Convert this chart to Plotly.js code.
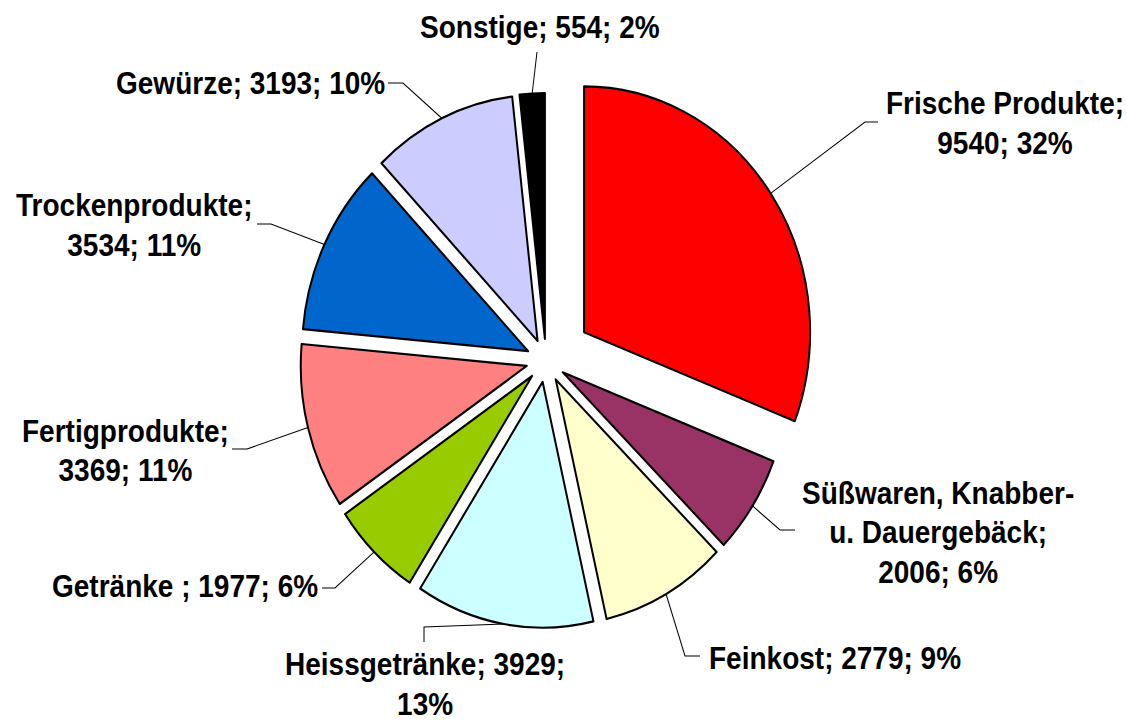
<!DOCTYPE html>
<html>
<head>
<meta charset="utf-8">
<script src="https://cdn.plot.ly/plotly-3.0.1.min.js"></script>
<style>
html, body { margin: 0; padding: 0; background: #ffffff; overflow: hidden; }
#wrap { width: 1127px; height: 720px; transform: scaleY(1.08761); transform-origin: 0 0; }
</style>
</head>
<body>
<div id="wrap"><div id="chart"></div></div>
<script>
// ---- data ----
const categories = ['Frische Produkte', 'Süßwaren, Knabber- u. Dauergebäck', 'Feinkost', 'Heissgetränke',
  'Getränke ', 'Fertigprodukte', 'Trockenprodukte', 'Gewürze', 'Sonstige'];
const categoryDisplay = ['Frische Produkte', 'Süßwaren, Knabber-<br>u. Dauergebäck', 'Feinkost', 'Heissgetränke',
  'Getränke ', 'Fertigprodukte', 'Trockenprodukte', 'Gewürze', 'Sonstige'];
const values = [9540, 2006, 2779, 3929, 1977, 3369, 3534, 3193, 554];
const percentLabels = ['32%', '6%', '9%', '13%', '6%', '11%', '11%', '10%', '2%'];

// ---- style ----
const colors = ['#FF0000', '#993366', '#FFFFCC', '#CCFFFF', '#99CC00', '#FF8080', '#0066CC', '#CCCCFF', '#000000'];
const pulls = [0.204, 0.088, 0.088, 0.088, 0.088, 0.088, 0.088, 0.088, 0.088];
// where the line break goes in each label: after category, after value, or none
const breakMode = ['cat', 'cat', 'none', 'val', 'none', 'cat', 'cat', 'none', 'none'];

const W = 1127, H = 720, S = 720 / 662;
// label placement (reference pixels): text centre, leader elbow, leader end
const labelLayout = [
  { x: 1005, y: 123, elbow: [865, 122], end: [878, 122] },
  { x: 938, y: 533, elbow: [780, 530], end: [795, 530] },
  { x: 835, y: 659, elbow: [685, 656], end: [700, 656] },
  { x: 425, y: 685, elbow: [424, 627], end: [424, 642] },
  { x: 185, y: 587, elbow: [335, 588], end: [322, 588] },
  { x: 125, y: 451, elbow: [247, 449], end: [232, 449] },
  { x: 134, y: 226, elbow: [271, 224], end: [257, 224] },
  { x: 250, y: 83, elbow: [403, 83], end: [388, 83] },
  { x: 540, y: 28, elbow: [537, 52], end: [537, 52] }
];

const px2paperX = x => x / W;
const ref2paperY = y => 1 - (y / S) / H;

function labelText(i) {
  const c = categoryDisplay[i], v = values[i], p = percentLabels[i];
  if (breakMode[i] === 'cat') return c + ';<br>' + v + '; ' + p;
  if (breakMode[i] === 'val') return c + '; ' + v + ';<br>' + p;
  return c + '; ' + v + '; ' + p;
}

const font = { family: 'Liberation Sans, Arial, sans-serif', size: 28, color: '#000000', weight: 'bold' };

const annotations = categories.map((c, i) => ({
  xref: 'paper', yref: 'paper',
  x: px2paperX(labelLayout[i].x), y: ref2paperY(labelLayout[i].y),
  xanchor: 'center', yanchor: 'middle', align: 'center',
  text: labelText(i), showarrow: false, font: font
}));

const trace = {
  type: 'pie',
  labels: categories,
  values: values,
  sort: false,
  direction: 'clockwise',
  rotation: 0,
  pull: pulls,
  textinfo: 'none',
  hoverinfo: 'skip',
  showlegend: false,
  marker: { colors: colors, line: { color: '#000000', width: 2 } },
  domain: { x: [0.2430, 0.7260], y: [0.1616, 0.9176] }
};

const layout = {
  width: W, height: H,
  margin: { l: 0, r: 0, t: 0, b: 0 },
  paper_bgcolor: '#ffffff',
  plot_bgcolor: '#ffffff',
  showlegend: false,
  font: font,
  annotations: annotations
};

Plotly.newPlot('chart', [trace], layout, { displayModeBar: false, staticPlot: true }).then(gd => {
  const cd = gd.calcdata[0];
  const cd0 = cd[0];
  const shapes = [];
  cd.forEach(pt => {
    const i = pt.i;
    const k = 1 + pulls[i];
    const sx = cd0.cx + k * pt.pxmid[0];
    const sy = cd0.cy + k * pt.pxmid[1];
    const L = labelLayout[i];
    const p0 = [sx / W, 1 - sy / H];
    const p1 = [px2paperX(L.elbow[0]), ref2paperY(L.elbow[1])];
    const p2 = [px2paperX(L.end[0]), ref2paperY(L.end[1])];
    shapes.push({
      type: 'path', xref: 'paper', yref: 'paper',
      path: 'M ' + p0[0] + ',' + p0[1] + ' L ' + p1[0] + ',' + p1[1] + ' L ' + p2[0] + ',' + p2[1],
      line: { color: '#000000', width: 1 }
    });
  });
  return Plotly.relayout(gd, { shapes: shapes });
});
</script>
</body>
</html>
